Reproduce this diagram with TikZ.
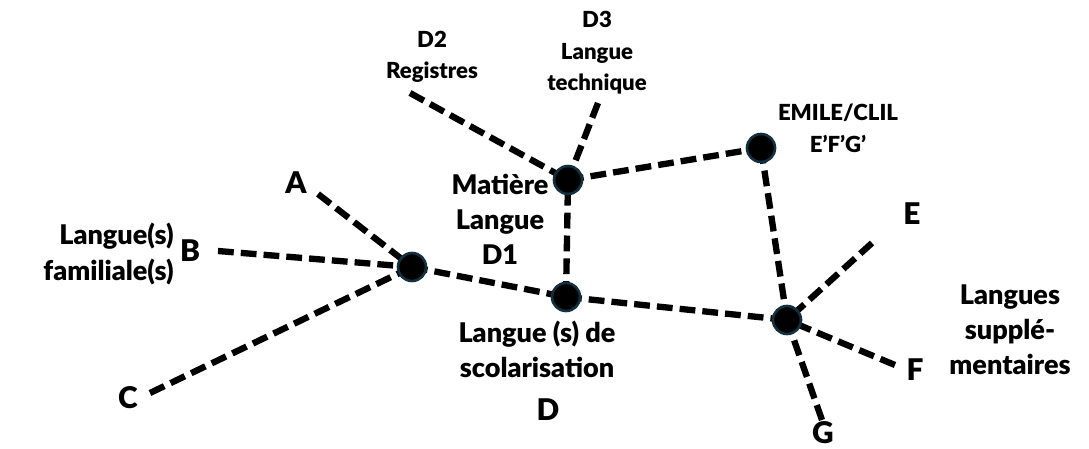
\documentclass[tikz,border=0pt]{standalone}
\usepackage{fontspec}
\setmainfont{Lato}[BoldFont={Lato Black}]
\usetikzlibrary{backgrounds}
\definecolor{hubrim}{HTML}{12303F}
\newcommand{\bigfnt}{\fontsize{15.4}{20}\selectfont\bfseries}
\newcommand{\letfnt}{\fontsize{17}{19}\selectfont\bfseries}
\newcommand{\smallfnt}{\fontsize{12.6}{18}\selectfont\bfseries}

\begin{document}
\begin{tikzpicture}[x=0.02cm,y=-0.02cm,
    hub/.style={circle,fill=black,draw=hubrim,line width=1.5pt,
      minimum size=0.56cm,inner sep=0pt},
    dashline/.style={line width=3.6pt,dash pattern=on 9pt off 4pt},
    biglbl/.style={font=\bigfnt,align=center,inner sep=0pt},
    letlbl/.style={font=\letfnt,inner sep=0pt},
    smalllbl/.style={font=\smallfnt,align=center,inner sep=0pt}]
    \useasboundingbox (0,0) rectangle (1089,449);

    \node[hub] (famhub) at (412,267) {};
    \node[hub] (schhub) at (566,297) {};
    \node[hub] (mathub) at (568,180) {};
    \node[hub] (emhub) at (761,148) {};
    \node[hub] (suphub) at (787,320) {};

    \coordinate (tipa) at (318,194);
    \coordinate (tipb) at (218,251);
    \coordinate (tipc) at (150,393);
    \coordinate (tipdb) at (410,93);
    \coordinate (tipdc) at (598,103);
    \coordinate (tipe) at (872,243);
    \coordinate (tipf) at (895,365);
    \coordinate (tipg) at (822,420);

    \node[letlbl] (lbla) at (296,183) {A};
    \node[letlbl] (lblb) at (190,251) {B};
    \node[letlbl] (lblc) at (128,398) {C};
    \node[letlbl] (lbld) at (548,410) {D};
    \node[letlbl] (lble) at (912,214) {E};
    \node[letlbl] (lblf) at (915,370) {F};
    \node[letlbl] (lblg) at (823,433) {G};

    \node[biglbl,align=right,anchor=east] (famlbl) at (174,254)
      {Langue(s)\\familiale(s)};
    \node[biglbl] (matlbl) at (500,219) {Matière\\Langue\\D1};
    \node[biglbl] (schlbl) at (537,349) {Langue (s) de\\scolarisation};
    \node[biglbl] (suplbl) at (1010,330) {Langues\\supplé-\\mentaires};

    \node[smalllbl] (regslbl) at (432,57) {D2\\Registres};
    \node[smalllbl] (techlbl) at (597,53) {D3\\Langue\\technique};
    \node[smalllbl] (emlbl) at (838,128) {EMILE/CLIL\\E’F’G’};

    \begin{scope}[on background layer]
      \draw[dashline] (tipa) -- (famhub.center);
      \draw[dashline] (tipb) -- (famhub.center);
      \draw[dashline] (tipc) -- (famhub.center);
      \draw[dashline] (famhub.center) -- (schhub.center);
      \draw[dashline] (schhub.center) -- (mathub.center);
      \draw[dashline] (schhub.center) -- (suphub.center);
      \draw[dashline] (tipdb) -- (mathub.center);
      \draw[dashline] (tipdc) -- (mathub.center);
      \draw[dashline] (mathub.center) -- (emhub.center);
      \draw[dashline] (emhub.center) -- (suphub.center);
      \draw[dashline] (tipe) -- (suphub.center);
      \draw[dashline] (tipf) -- (suphub.center);
      \draw[dashline] (tipg) -- (suphub.center);
    \end{scope}
  \end{tikzpicture}
\end{document}
